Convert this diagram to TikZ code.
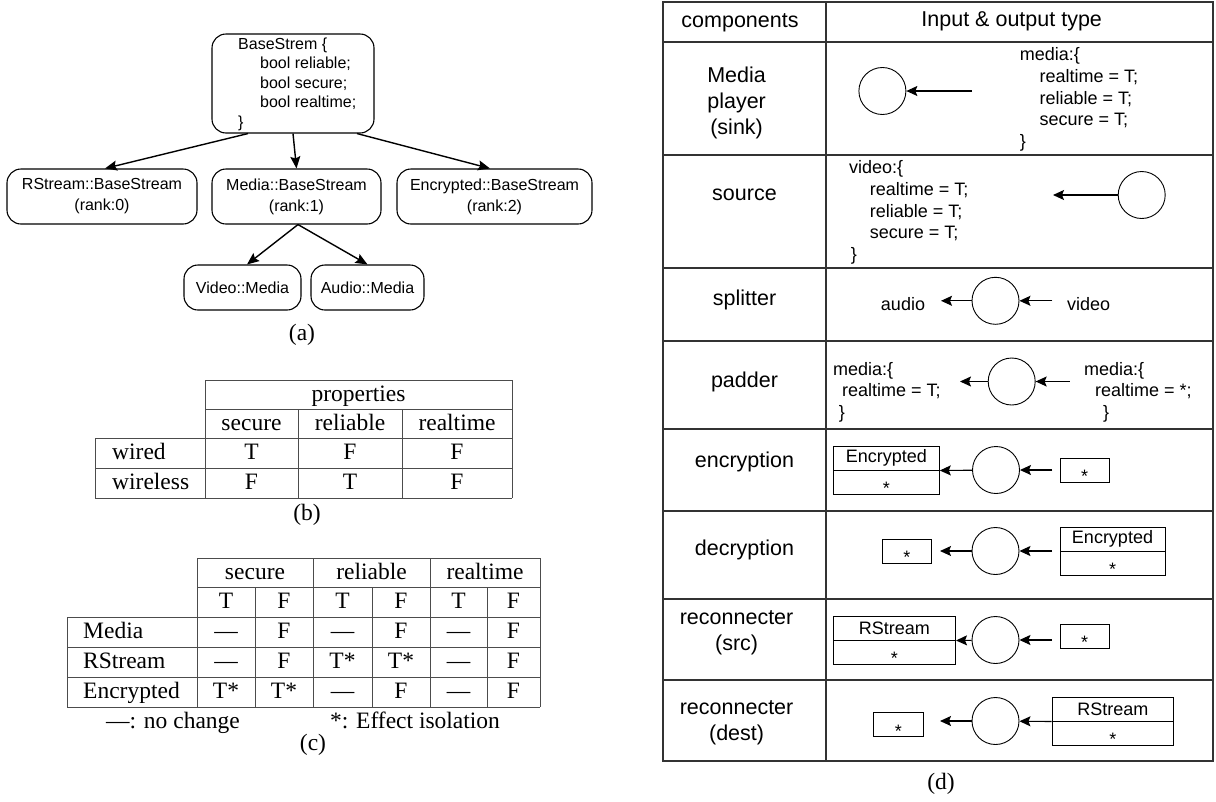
\documentclass[tikz,border=0pt]{standalone}
\usepackage{fontspec}
\setmainfont{Liberation Serif}
\newfontfamily\sfA{Liberation Sans}
\usetikzlibrary{arrows.meta}
\begin{document}
\begin{tikzpicture}[x=1pt,y=-1pt,
 arr/.style={-{Stealth[length=12pt,width=10pt,inset=2pt]}, line width=1.4pt},
 darr/.style={-{Stealth[length=11pt,width=10pt,inset=2pt]}, line width=1.1pt},
 abox/.style={draw, rounded corners=14pt, line width=1.1pt, inner sep=0pt, align=center, font=\sfA\fontsize{16}{21}\selectfont},
 atxt/.style={inner sep=0pt, anchor=west, align=left, font=\sfA\fontsize{16}{19.5}\selectfont},
 tline/.style={draw=black!70, line width=1pt},
 ttxt/.style={inner sep=0pt, anchor=base, font=\fontsize{23.5}{28}\selectfont},
 tcap/.style={inner sep=0pt, font=\fontsize{23.5}{28}\selectfont},
 dline/.style={draw=black!80, line width=1.3pt},
 dlab/.style={inner sep=0pt, align=center, font=\sfA\fontsize{21.5}{26}\selectfont},
 dtxt/.style={inner sep=0pt, anchor=west, align=left, font=\sfA\fontsize{18}{21.75}\selectfont},
 dsm/.style={inner sep=0pt, font=\sfA\fontsize{18}{21.75}\selectfont},
 dcirc/.style={draw, circle, minimum size=47pt, inner sep=0pt, line width=0.9pt},
 dbox/.style={draw, line width=1pt, inner sep=0pt, minimum height=24pt, font=\sfA\fontsize{18}{21}\selectfont},
 star/.style={inner sep=0pt, anchor=base, font=\sfA\fontsize{18}{21}\selectfont},
]
\fill[white] (0,0) rectangle (1216,801);
\useasboundingbox (0,0) rectangle (1216,801);

% ---------------- (a) ----------------
\node[abox, minimum width=162pt, minimum height=99pt] (top) at (293,83.5) {};
\node[atxt] (toptxt) at (238,84) {BaseStrem \{\\\hspace*{22pt}bool reliable;\\\hspace*{22pt}bool secure;\\\hspace*{22pt}bool realtime;\\\}};
\node[abox, minimum width=190pt, minimum height=55pt] (rs) at (102,196.5) {RStream::BaseStream\\(rank:0)};
\node[abox, minimum width=169pt, minimum height=55pt] (md) at (296.5,196.5) {Media::BaseStream\\(rank:1)};
\node[abox, minimum width=195pt, minimum height=55pt] (en) at (494.5,196.5) {Encrypted::BaseStream\\(rank:2)};
\node[abox, minimum width=117pt, minimum height=45pt] (vd) at (242.5,287.5) {Video::Media};
\node[abox, minimum width=113pt, minimum height=45pt] (au) at (367.5,287.5) {Audio::Media};
\draw[arr] ([xshift=-45pt]top.south) -- ([xshift=3pt]rs.north);
\draw[arr] (top.south) -- (md.north);
\draw[arr] ([xshift=64pt]top.south) -- ([xshift=-4.5pt]en.north);
\draw[arr] ([xshift=1.5pt]md.south) -- ([xshift=4.5pt]vd.north);
\draw[arr] ([xshift=1.5pt]md.south) -- (au.north);
\node[tcap] (capa) at (302,335) {(a)};

% ---------------- (b) ----------------
\draw[tline] (205,380) -- (512,380) (205,409) -- (512,409)
  (95,438) -- (512,438) (95,468) -- (512,468) (95,498) -- (512,498)
  (95,438) -- (95,498) (205,380) -- (205,498) (298,409) -- (298,498)
  (402,409) -- (402,498) (512,380) -- (512,498);
\node[ttxt] (bprop) at (358.5,401.3) {properties};
\node[ttxt] (bsec) at (251.5,430.3) {secure};
\node[ttxt] (brel) at (350,430.3) {reliable};
\node[ttxt] (brt) at (457,430.3) {realtime};
\node[ttxt, anchor=base west] (bwired) at (112,459.3) {wired};
\node[ttxt, anchor=base west] (bwless) at (112,489.3) {wireless};
\node[ttxt] (b11) at (251.5,459.3) {T};
\node[ttxt] (b12) at (350,459.3) {F};
\node[ttxt] (b13) at (457,459.3) {F};
\node[ttxt] (b21) at (251.5,489.3) {F};
\node[ttxt] (b22) at (350,489.3) {T};
\node[ttxt] (b23) at (457,489.3) {F};
\node[tcap] (capb) at (307,515) {(b)};

% ---------------- (c) ----------------
\draw[tline] (197,558) -- (540,558) (197,587) -- (540,587)
  (67,617) -- (540,617) (67,647) -- (540,647) (67,677) -- (540,677) (67,707) -- (540,707)
  (67,617) -- (67,707) (197,558) -- (197,707) (255,587) -- (255,707)
  (313,558) -- (313,707) (372,587) -- (372,707) (430,558) -- (430,707)
  (487,587) -- (487,707) (540,558) -- (540,707);
\node[ttxt] (csec) at (255,579.3) {secure};
\node[ttxt] (crel) at (371.5,579.3) {reliable};
\node[ttxt] (crt) at (485,579.3) {realtime};
\node[ttxt] (h1) at (226,608.3) {T};
\node[ttxt] (h2) at (284,608.3) {F};
\node[ttxt] (h3) at (342.5,608.3) {T};
\node[ttxt] (h4) at (401,608.3) {F};
\node[ttxt] (h5) at (458.5,608.3) {T};
\node[ttxt] (h6) at (513.5,608.3) {F};
\node[ttxt, anchor=base west] (rmed) at (83,638.3) {Media};
\node[ttxt, anchor=base west] (rrs) at (83,668.3) {RStream};
\node[ttxt, anchor=base west] (renc) at (83,698.3) {Encrypted};
\node[ttxt] (m1) at (226,638.3) {—};
\node[ttxt] (m2) at (284,638.3) {F};
\node[ttxt] (m3) at (342.5,638.3) {—};
\node[ttxt] (m4) at (401,638.3) {F};
\node[ttxt] (m5) at (458.5,638.3) {—};
\node[ttxt] (m6) at (513.5,638.3) {F};
\node[ttxt] (r1) at (226,668.3) {—};
\node[ttxt] (r2) at (284,668.3) {F};
\node[ttxt] (r3) at (342.5,668.3) {T*};
\node[ttxt] (r4) at (401,668.3) {T*};
\node[ttxt] (r5) at (458.5,668.3) {—};
\node[ttxt] (r6) at (513.5,668.3) {F};
\node[ttxt] (e1) at (226,698.3) {T*};
\node[ttxt] (e2) at (284,698.3) {T*};
\node[ttxt] (e3) at (342.5,698.3) {—};
\node[ttxt] (e4) at (401,698.3) {F};
\node[ttxt] (e5) at (458.5,698.3) {—};
\node[ttxt] (e6) at (513.5,698.3) {F};
\node[ttxt] (leg1) at (173,728.3) {—: no change};
\node[ttxt] (leg2) at (415,728.3) {*: Effect isolation};
\node[tcap] (capc) at (313,745) {(c)};

% ---------------- (d) ----------------
\draw[dline] (663,2) rectangle (1213,761);
\draw[dline] (663,42) -- (1213,42) (663,155) -- (1213,155) (663,268) -- (1213,268)
  (663,341) -- (1213,341) (663,429) -- (1213,429) (663,511) -- (1213,511)
  (663,599) -- (1213,599) (663,680) -- (1213,680) (826,2) -- (826,761);
\node[dlab] (lc) at (740,23) {components};
\node[dlab] (li) at (1011.7,21) {Input \& output type};
\node[dlab] (l1) at (736.6,103) {Media\\player\\(sink)};
\node[dlab] (l2) at (744.5,195) {source};
\node[dlab] (l3) at (744.5,300) {splitter};
\node[dlab] (l4) at (744.5,382) {padder};
\node[dlab] (l5) at (744.5,462) {encryption};
\node[dlab] (l6) at (744.5,550) {decryption};
\node[dlab] (l7) at (736.6,633) {reconnecter\\(src)};
\node[dlab] (l8) at (736.6,722.3) {reconnecter\\(dest)};

% media player
\node[dcirc] (c1) at (882.4,91) {};
\node[dtxt] (t1) at (1019.7,99.5) {media:\{\\\hspace*{19.6pt}realtime = T;\\\hspace*{19.6pt}reliable = T;\\\hspace*{19.6pt}secure = T;\\\}};
\coordinate (a1) at (972,91);
\draw[darr] (a1) -- (c1);
% source
\node[dcirc] (c2) at (1141.7,195) {};
\node[dtxt] (t2) at (849,212.4) {video:\{\\\hspace*{20.7pt}realtime = T;\\\hspace*{20.7pt}reliable = T;\\\hspace*{20.7pt}secure = T;\\\hspace*{1.7pt}\}};
\coordinate (a2) at (1053,195);
\draw[darr] (c2) -- (a2);
% splitter
\node[dcirc] (c3) at (995.5,300.8) {};
\node[dsm] (aud) at (903,304) {audio};
\node[dsm] (vid) at (1088.6,304) {video};
\coordinate (a3) at (941,300.8);
\coordinate (a3b) at (1052.4,300.8);
\draw[darr] (c3) -- (a3);
\draw[darr] (a3b) -- (c3);
% padder
\node[dcirc] (c4) at (1011.7,381.5) {};
\node[dtxt] (t4) at (833,392.3) {media:\{\\\hspace*{9pt}realtime = T;\\\hspace*{5.6pt}\}};
\node[dtxt] (t4b) at (1084,392.3) {media:\{\\\hspace*{11pt}realtime = *;\\\hspace*{19pt}\}};
\coordinate (a4) at (960,381.5);
\coordinate (a4b) at (1069.7,381.5);
\draw[darr] (c4) -- (a4);
\draw[darr] (a4b) -- (c4);
% encryption
\node[dcirc] (c5) at (996,470) {};
\node[dbox, minimum width=105.9pt] (encA) at (886.35,458) {Encrypted};
\node[dbox, minimum width=105.9pt] (encB) at (886.35,482) {};
\node[star] (s5a) at (886.35,494.7) {*};
\node[dbox, minimum width=49.3pt] (es) at (1084.65,470) {};
\node[star] (s5b) at (1084.65,482.7) {*};
\coordinate (a5b) at (1052.4,470);
\draw[darr] (c5) -- (encA.south east);
\draw[darr] (a5b) -- (c5);
% decryption
\node[dcirc] (c6) at (995.5,551) {};
\node[dbox, minimum width=49pt] (ds) at (906.9,551) {};
\node[star] (s6a) at (906.9,563.7) {*};
\node[dbox, minimum width=105pt] (dA) at (1112.5,539) {Encrypted};
\node[dbox, minimum width=105pt] (dB) at (1112.5,563) {};
\node[star] (s6b) at (1112.5,575.7) {*};
\coordinate (a6) at (940,551);
\coordinate (a6b) at (1052,551);
\draw[darr] (c6) -- (a6);
\draw[darr] (a6b) -- (c6);
% reconnecter src
\node[dcirc] (c7) at (995.5,640) {};
\node[dbox, minimum width=122.1pt] (sA) at (894.45,628) {RStream};
\node[dbox, minimum width=122.1pt] (sB) at (894.45,652) {};
\node[star] (s7a) at (894.45,664.7) {*};
\node[dbox, minimum width=49.3pt] (ss) at (1084.65,636) {};
\node[star] (s7b) at (1084.65,648.7) {*};
\coordinate (a7b) at (1052,640);
\draw[darr] (c7) -- (sA.south east);
\draw[darr] (a7b) -- (c7);
% reconnecter dest
\node[dcirc] (c8) at (995.5,721) {};
\node[dbox, minimum width=49.2pt] (ds2) at (898.4,724.5) {};
\node[star] (s8a) at (898.4,737.2) {*};
\node[dbox, minimum width=121.8pt] (rA) at (1112.9,709) {RStream};
\node[dbox, minimum width=121.8pt] (rB) at (1112.9,733) {};
\node[star] (s8b) at (1112.9,745.7) {*};
\coordinate (a8) at (940,721);
\draw[darr] (c8) -- (a8);
\draw[darr] (rA.south west) -- (c8);

\node[tcap] (capd) at (941,784) {(d)};
\end{tikzpicture}
\end{document}
